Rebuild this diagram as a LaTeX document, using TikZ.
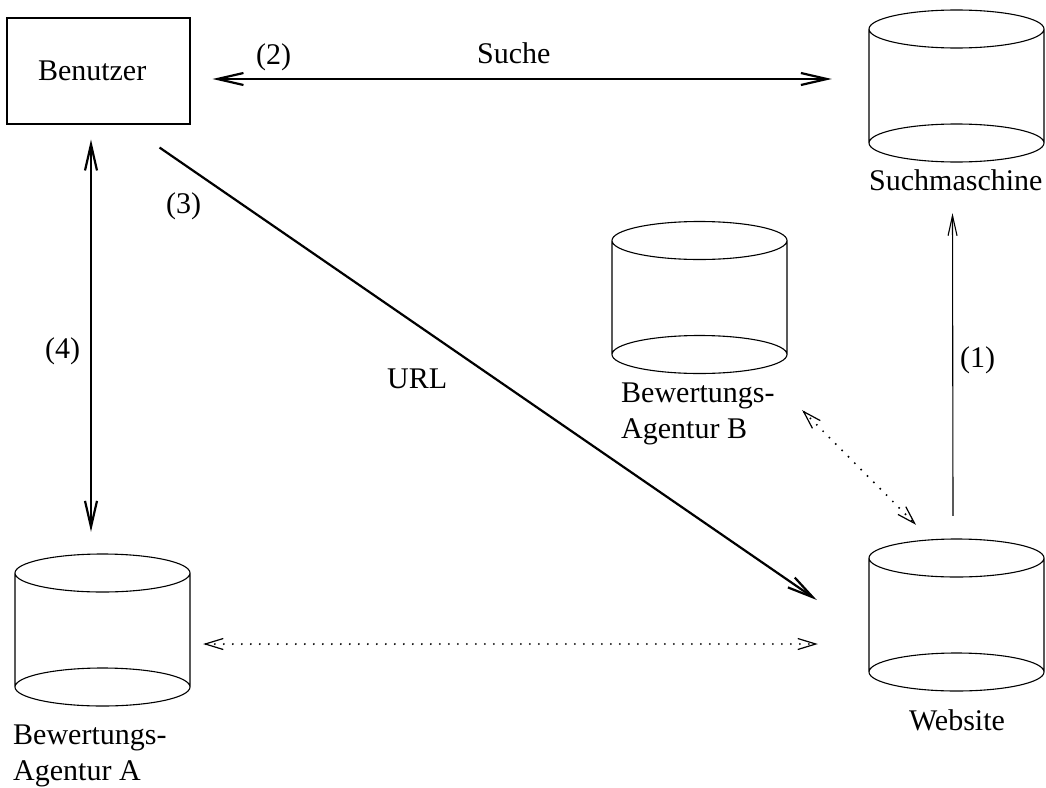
\documentclass[tikz,border=0pt]{standalone}
\usepackage{fontspec}
\setmainfont{Liberation Serif}
\usetikzlibrary{arrows.meta}

\tikzset{
  outline/.style={line width=1.1pt},
  % database drum: two full ellipses joined by vertical sides
  dbcyl/.pic={
    \node[inner sep=0pt, minimum width=175pt, minimum height=152pt] (-body) at (0,0) {};
    \draw[outline] (0,-57) ellipse [x radius=87.5pt, y radius=19pt]
                   (0,57) ellipse [x radius=87.5pt, y radius=19pt]
                   (-87.5,-57) -- (-87.5,57)
                   (87.5,-57) -- (87.5,57);
  },
  flow/.style={line width=2.2pt, >={Straight Barb[length=26pt,width=12pt]}},
  weak/.style={line width=1.1pt, >={Straight Barb[length=20pt,width=9pt]}},
  dotlink/.style={line width=2.2pt, line cap=round, dash pattern=on 0pt off 9pt,
    >={Straight Barb[length=18pt,width=11pt,line width=1.2pt]}},
  lbl/.style={anchor=base west, inner sep=0pt},
  caption/.style={anchor=north west, inner sep=0pt, align=left},
}

\begin{document}
\begin{tikzpicture}[x=1pt, y=-1pt, font=\fontsize{30}{36}\selectfont]
  \useasboundingbox (0,0) rectangle (1046,787);

  % participants
  \node[draw, outline, minimum width=183pt, minimum height=106pt,
        inner xsep=31pt, inner ysep=0pt, text width=121pt, align=left]
    (benutzer) at (98.5,71) {Benutzer};

  \pic (sm) at (956.5,86) {dbcyl};
  \node[lbl] (smlabel) at (869,190) {Suchmaschine};

  \pic (ws) at (956.5,615) {dbcyl};
  \node[anchor=base, inner sep=0pt] (wslabel) at (957,730) {Website};

  \pic (agb) at (699.5,297.5) {dbcyl};
  \node[caption] (agblabel) at (621,383) {Bewertungs-\\Agentur B};

  \pic (aga) at (102.5,630) {dbcyl};
  \node[caption] (agalabel) at (13,725) {Bewertungs-\\Agentur A};

  % (1) website is indexed by the search engine
  \draw[weak, ->] ([xshift=-3.5pt, yshift=23pt]ws-body.north)
    -- ([xshift=-4pt, yshift=-51pt]sm-body.south);
  \node[lbl] (l1) at (960,367) {(1)};

  % (2) search
  \draw[flow, <->] ([xshift=22pt, yshift=-8pt]benutzer.east)
    -- ([xshift=-37pt, yshift=7pt]sm-body.west);
  \node[lbl] (l2) at (256,64) {(2)};
  \node[lbl] (suche) at (477,63) {Suche};

  % (3) URL
  \draw[flow, ->] ([xshift=-31pt, yshift=-23pt]benutzer.south east)
    -- ([xshift=-52pt, yshift=15pt]ws-body.west);
  \node[lbl] (l3) at (166,213) {(3)};
  \node[lbl] (url) at (387,388) {URL};

  % (4) user <-> rating agency A
  \draw[flow, <->] ([xshift=-7.5pt, yshift=-15pt]benutzer.south)
    -- ([xshift=-11.5pt, yshift=22pt]aga-body.north);
  \node[lbl] (l4) at (45,358) {(4)};

  % rating agencies <-> website
  \draw[dotlink, <->] ([xshift=13pt, yshift=-14pt]aga-body.east)
    -- ([xshift=-51pt, yshift=-29pt]ws-body.west);
  \draw[dotlink, <->] ([xshift=15pt, yshift=-36.5pt]agb-body.south east)
    -- ([xshift=-40.5pt, yshift=14pt]ws-body.north);
\end{tikzpicture}
\end{document}
